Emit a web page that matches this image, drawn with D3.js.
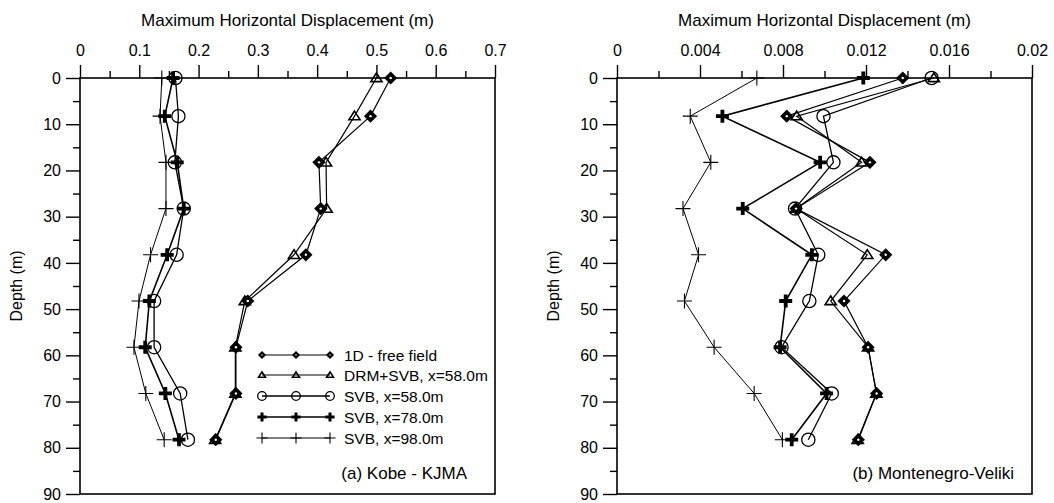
<!DOCTYPE html>
<html><head><meta charset="utf-8">
<script src="https://cdn.jsdelivr.net/npm/d3@7"></script>
<style>
body{margin:0;background:#fff;}
text{font-family:"Liberation Sans",Arial,sans-serif;fill:#000;}
</style></head>
<body><svg id="c" width="1054" height="503"></svg>
<script>
const depths = [0, 8.25, 18.25, 28.25, 38.25, 48.25, 58.25, 68.25, 78.25];
const seriesNames = ["1D - free field","DRM+SVB, x=58.0m","SVB, x=58.0m","SVB, x=78.0m","SVB, x=98.0m"];
// (a) Kobe - KJMA
const kobe1D   = [0.524,0.490,0.403,0.406,0.381,0.283,0.263,0.263,0.229];
const kobeDRM  = [0.500,0.463,0.415,0.416,0.361,0.278,0.262,0.262,0.228];
const kobeS58  = [0.161,0.166,0.160,0.175,0.163,0.125,0.125,0.169,0.182];
const kobeS78  = [0.157,0.143,0.164,0.175,0.147,0.117,0.110,0.144,0.167];
const kobeS98  = [0.138,0.135,0.145,0.145,0.119,0.0995,0.091,0.111,0.142];
// (b) Montenegro-Veliki
const mont1D   = [0.01377,0.00818,0.01219,0.00863,0.01295,0.01094,0.0121,0.01251,0.01163];
const montDRM  = [0.01527,0.00866,0.01179,0.00863,0.01206,0.0103,0.0121,0.0125,0.0116];
const montS58  = [0.01516,0.00995,0.01043,0.00858,0.0097,0.00927,0.00793,0.01035,0.00922];
const montS78  = [0.01187,0.00508,0.00979,0.00606,0.00939,0.00813,0.00786,0.0101,0.00842];
const montS98  = [0.00674,0.00353,0.00452,0.00318,0.00393,0.00325,0.00468,0.00661,0.00797];

const kobeXTicks = [0,0.1,0.2,0.3,0.4,0.5,0.6,0.7];
const kobeXMinor = [0.05,0.15,0.25,0.35,0.45,0.55,0.65];
const montXTicks = [0,0.004,0.008,0.012,0.016,0.02];
const montXMinor = [0.002,0.006,0.010,0.014,0.018];
const yTicks = [0,10,20,30,40,50,60,70,80,90];
const yMinor = [5,15,25,35,45,55,65,75,85];

const svg = d3.select("#c");
const plotTop = 78, plotBottom = 494;
const y = d3.scaleLinear().domain([0,90]).range([plotTop,plotBottom]);

function marker(g, type, big){
  const s = big ? 1 : 0.62;
  if(type==="diamond"){
    const r = 6.6*s;
    g.append("path").attr("d",`M0,${-r}L${r},0L0,${r}L${-r},0Z`).attr("fill","#000");
    g.append("circle").attr("r",1.2*s).attr("fill","#fff");
  } else if(type==="tri"){
    const r = 5.6*s;
    g.append("path").attr("d",`M0,${-r*0.9}L${r},${r*0.65}L${-r},${r*0.65}Z`).attr("fill","none").attr("stroke","#000").attr("stroke-width",1.6);
  } else if(type==="circle"){
    g.append("circle").attr("r",big?6.6:4.3).attr("fill","none").attr("stroke","#000").attr("stroke-width",1.3);
  } else if(type==="bold"){
    const r = big?6.5:4.6;
    g.append("path").attr("d",`M${-r},0H${r}M0,${-r}V${r}`).attr("stroke","#000").attr("stroke-width",big?3.8:3);
  } else if(type==="thin"){
    const r = big?7.5:5.6;
    g.append("path").attr("d",`M${-r},0H${r}M0,${-r}V${r}`).attr("stroke","#000").attr("stroke-width",1.1);
  }
}

const types = ["diamond","tri","circle","bold","thin"];
const lw = {diamond:1.2,tri:1.2,circle:1.3,bold:1.6,thin:1};

function panel(x0, x1, domainMax, xt, xm, fmt, series, label, labelRight){
  const x = d3.scaleLinear().domain([0,domainMax]).range([x0,x1]);
  const g = svg.append("g");
  g.append("rect").attr("x",x0).attr("y",plotTop).attr("width",x1-x0).attr("height",plotBottom-plotTop)
    .attr("fill","none").attr("stroke","#000").attr("stroke-width",1.6);
  const ax = g.append("g").attr("transform",`translate(0,${plotTop})`)
    .call(d3.axisTop(x).tickValues(xt).tickSize(13).tickPadding(9).tickFormat(fmt));
  ax.select(".domain").remove();
  ax.selectAll("line").attr("stroke-width",1.4);
  ax.selectAll("text").attr("font-size",16).attr("font-family","Liberation Sans, Arial, sans-serif");
  const axm = g.append("g").attr("transform",`translate(0,${plotTop})`)
    .call(d3.axisTop(x).tickValues(xm).tickSize(7).tickFormat(""));
  axm.select(".domain").remove();
  axm.selectAll("line").attr("stroke-width",1.4);
  const ay = g.append("g").attr("transform",`translate(${x0},0)`)
    .call(d3.axisLeft(y).tickValues(yTicks).tickSize(14).tickPadding(5).tickFormat(d3.format("d")));
  ay.select(".domain").remove();
  ay.selectAll("line").attr("stroke-width",1.4);
  ay.selectAll("text").attr("font-size",16).attr("font-family","Liberation Sans, Arial, sans-serif");
  const aym = g.append("g").attr("transform",`translate(${x0},0)`)
    .call(d3.axisLeft(y).tickValues(yMinor).tickSize(7).tickFormat(""));
  aym.select(".domain").remove();
  aym.selectAll("line").attr("stroke-width",1.4);
  g.append("text").attr("x",(x0+x1)/2).attr("y",26).attr("text-anchor","middle").attr("font-size",17)
    .text("Maximum Horizontal Displacement (m)");
  g.append("text").attr("transform",`translate(${x0-58},${(plotTop+plotBottom)/2}) rotate(-90)`)
    .attr("text-anchor","middle").attr("font-size",16).text("Depth (m)");
  g.append("text").attr("x",labelRight).attr("y",plotBottom-15).attr("text-anchor","end").attr("font-size",17).text(label);
  const order = [4,2,3,1,0];
  const line = d3.line().x(d=>x(d[0])).y(d=>y(d[1]));
  order.forEach(i=>{
    const pts = series[i].map((v,k)=>[v,depths[k]]);
    g.append("path").attr("d",line(pts)).attr("fill","none").attr("stroke","#000").attr("stroke-width",lw[types[i]]);
    pts.forEach(p=>{
      const m = g.append("g").attr("transform",`translate(${x(p[0])},${y(p[1])})`);
      marker(m, types[i], true);
    });
  });
  return x;
}

panel(80, 495, 0.7, kobeXTicks, kobeXMinor, d3.format(""), [kobe1D,kobeDRM,kobeS58,kobeS78,kobeS98], "(a) Kobe - KJMA", 467);
panel(617, 1032, 0.02, montXTicks, montXMinor, d=>d===0?"0":String(+d.toFixed(3)), [mont1D,montDRM,montS58,montS78,montS98], "(b) Montenegro-Veliki", 1014);

const lg = svg.append("g");
const legY = [355,375,396,417,438];
seriesNames.forEach((n,i)=>{
  const yy = legY[i];
  lg.append("line").attr("x1",262).attr("x2",330).attr("y1",yy).attr("y2",yy).attr("stroke","#000").attr("stroke-width",lw[types[i]]);
  [262,296,330].forEach(xx=>{
    const m = lg.append("g").attr("transform",`translate(${xx},${yy})`);
    marker(m, types[i], false);
  });
  lg.append("text").attr("x",344).attr("y",yy+5.5).attr("font-size",15.5).text(n);
});
</script></body></html>
